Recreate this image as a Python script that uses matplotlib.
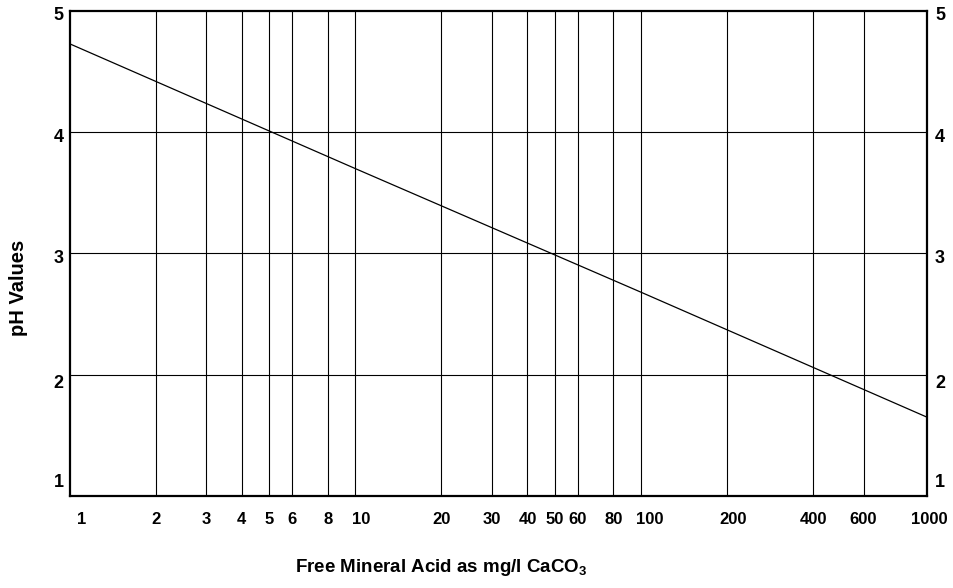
import matplotlib
matplotlib.use("Agg")
import matplotlib.pyplot as plt
import matplotlib.transforms as mtransforms
from matplotlib import font_manager

# data
acid_mg_l = [1, 10, 100, 1000]
ph_values = [4.73, 3.70, 2.68, 1.65]

x_ticks = [1, 2, 3, 4, 5, 6, 8, 10, 20, 30, 40, 50, 60, 80, 100, 200, 400, 600, 1000]
x_tick_labels = [str(v) for v in x_ticks]
y_ticks = [1, 2, 3, 4, 5]
y_tick_labels = ["1", "2", "3", "4", "5"]

# small pixel nudges so the labels sit like in the original (right / down)
x_label_shift = {1: 12, 10: 6, 100: 9, 200: 6, 1000: 2}
y_label_down = {1: -13, 2: 9, 3: 5, 4: 5, 5: 5}

names = {f.name for f in font_manager.fontManager.ttflist}
narrow = "Liberation Sans Narrow" if "Liberation Sans Narrow" in names else "Liberation Sans"
plt.rcParams["font.family"] = ["Liberation Sans", "DejaVu Sans"]
plt.rcParams["font.weight"] = "bold"
plt.rcParams["mathtext.fontset"] = "custom"
plt.rcParams["mathtext.bf"] = "Liberation Sans:bold"

fig = plt.figure(figsize=(9.54, 5.88), dpi=100)
ax = fig.add_axes([0.0729, 0.1565, 0.9717 - 0.0729, 0.9813 - 0.1565])

ax.set_xscale("log")
ax.set_xlim(1, 1000)
ax.set_ylim(1, 5)

for v in x_ticks[1:-1]:
    ax.axvline(v, color="black", lw=0.8, zorder=1)
for v in y_ticks[1:-1]:
    ax.axhline(v, color="black", lw=0.8, zorder=1)

ax.plot(acid_mg_l, ph_values, color="black", lw=0.9, zorder=2)

ax.set_xticks([])
ax.set_yticks([])
ax.minorticks_off()
for s in ax.spines.values():
    s.set_linewidth(1.6)
    s.set_color("black")

for v, lab in zip(x_ticks, x_tick_labels):
    dx = x_label_shift.get(v, 0)
    tr = ax.get_xaxis_transform() + mtransforms.ScaledTranslation(dx / 100, -16 / 100, fig.dpi_scale_trans)
    ax.text(v, 0, lab, transform=tr, ha="center", va="top", fontsize=12, fontweight="bold")

for v, lab in zip(y_ticks, y_tick_labels):
    dy = -y_label_down[v]
    tr_l = ax.get_yaxis_transform() + mtransforms.ScaledTranslation(-6 / 100, dy / 100, fig.dpi_scale_trans)
    tr_r = ax.get_yaxis_transform() + mtransforms.ScaledTranslation(8 / 100, dy / 100, fig.dpi_scale_trans)
    ax.text(0, v, lab, transform=tr_l, ha="right", va="center", fontsize=13, fontweight="bold")
    ax.text(1, v, lab, transform=tr_r, ha="left", va="center", fontsize=13, fontweight="bold")

fig.text(19 / 954, 1 - 288 / 588, "pH Values", rotation=90, ha="center", va="center",
         fontsize=14.5, fontweight="bold")
fig.text(441 / 954, 1 - 568 / 588, r"Free Mineral Acid as mg/l CaCO$_\mathbf{3}$",
         ha="center", va="center", fontsize=13.5, fontweight="bold", family=narrow)

fig.savefig("out.png", dpi=100)
